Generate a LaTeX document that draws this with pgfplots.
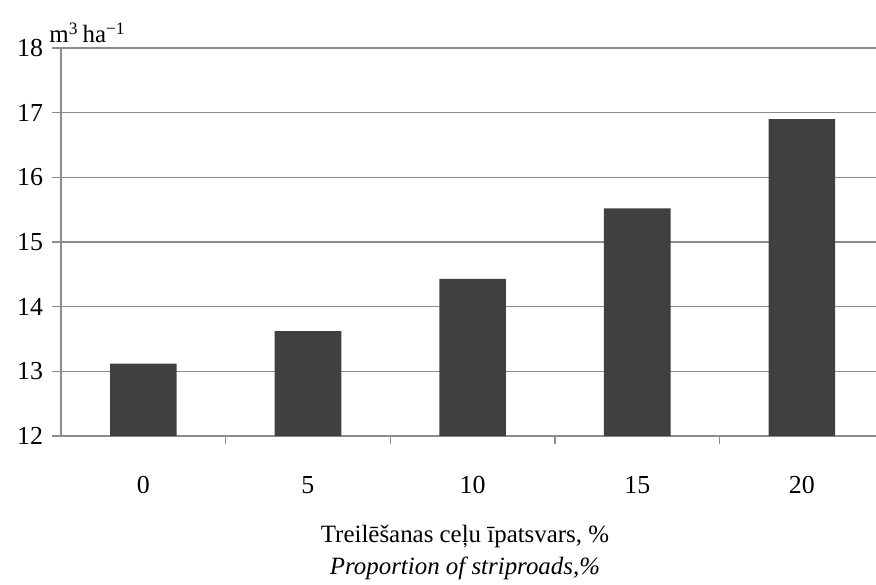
\documentclass[border=0pt]{standalone}
\usepackage{fontspec}
\setmainfont{Liberation Serif}
\usepackage{pgfplots}
\pgfplotsset{compat=1.18}
\definecolor{barc}{RGB}{64,64,64}
\definecolor{gridc}{RGB}{140,140,140}
\begin{document}
\begin{tikzpicture}
\begin{axis}[
  width=407.5bp, height=194bp, scale only axis,
  at={(0,0)}, anchor=south west,
  xmin=-0.5, xmax=4.45, ymin=12, ymax=18,
  ybar, bar width=33.3bp,
  axis x line*=bottom, axis y line*=left,
  axis line style={gridc, line width=0.7bp, -},
  ymajorgrids, grid style={gridc, line width=0.7bp},
  xtick={0,1,2,3,4}, xticklabels={0,5,10,15,20},
  minor xtick={0.5,1.5,2.5,3.5},
  major x tick style={draw=none},
  minor x tick style={gridc, line width=0.7bp},
  ytick={12,13,14,15,16,17,18},
  ytick style={gridc, line width=0.7bp},
  tick align=outside, major tick length=4.5bp, minor tick length=4bp,
  tick label style={font=\fontsize{13}{15}\selectfont},
  /pgf/number format/assume math mode=true,
  x tick label style={yshift=-12bp},
  y tick label style={xshift=-1bp},
  clip=false,
]
\addplot[fill=barc, draw=none] coordinates {(0,13.12) (1,13.62) (2,14.43) (3,15.52) (4,16.90)};
\end{axis}
\node[anchor=base west, font=\fontsize{12.5}{15}\selectfont, inner sep=0pt] at (-6bp,2.5bp+194bp) {m\textsuperscript{3}\,ha\textsuperscript{−1}};
\node[font=\fontsize{12.5}{15}\selectfont, inner sep=0pt] at (202bp,-50bp) {Treilēšanas ceļu īpatsvars, \%};
\node[font=\fontsize{12.5}{15}\selectfont\itshape, inner sep=0pt] at (202bp,-66bp) {Proportion of striproads,\%};
\pgfresetboundingbox
\useasboundingbox (-30.5bp,-74.5bp) rectangle (407.5bp,218bp);
\end{tikzpicture}
\end{document}
